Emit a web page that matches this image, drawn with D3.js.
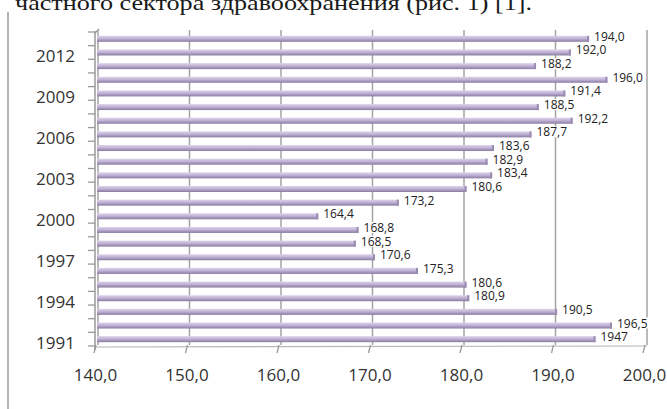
<!DOCTYPE html>
<html>
<head>
<meta charset="utf-8">
<script src="https://cdn.jsdelivr.net/npm/d3@7"></script>
<style>
  body { margin: 0; background: #fff; }
  svg { display: block; }
</style>
</head>
<body>
<svg id="plot" width="667" height="409"></svg>
<script>
// Years, bottom to top as in the picture
let years = ["1991","1992","1993","1994","1995","1996","1997","1998","1999","2000",
             "2001","2002","2003","2004","2005","2006","2007","2008","2009","2010",
             "2011","2012","2013"];
let values = [194.7,196.5,190.5,180.9,180.6,175.3,170.6,168.5,168.8,164.4,
              173.2,180.6,183.4,182.9,183.6,187.7,192.2,188.5,191.4,196.0,
              188.2,192.0,194.0];
// labels as printed (the 1991 one is printed "1947")
let valueLabels = ["1947","196,5","190,5","180,9","180,6","175,3","170,6","168,5","168,8","164,4",
                   "173,2","180,6","183,4","182,9","183,6","187,7","192,2","188,5","191,4","196,0",
                   "188,2","192,0","194,0"];
let shownYears = ["1991","1994","1997","2000","2003","2006","2009","2012"];
let xTicks = [140,150,160,170,180,190,200];

let data = years.map(function(y,i) {
  return {year: y, value: values[i], label: valueLabels[i]};
});

let svg = d3.select("#plot");

// caption line cut off at the top
svg.append("text")
  .attr("x", 15).attr("y", 10)
  .attr("textLength", 517).attr("lengthAdjust", "spacingAndGlyphs")
  .style("font-family", "'Liberation Serif', serif")
  .style("font-size", "22px")
  .attr("fill", "#1a1a1a")
  .text("частного сектора здравоохранения (рис. 1) [1].");

// left frame line
svg.append("line")
  .attr("x1", 8).attr("x2", 8).attr("y1", 12).attr("y2", 409)
  .attr("stroke", "#9a9a9a").attr("stroke-width", 1.5);

// scales
let xScale = d3.scaleLinear()
  .domain([140,200])
  .range([95,644]);

let yScale = d3.scaleBand()
  .domain(years.slice().reverse())
  .range([32,346]);

let depthX = 3;
let barH = 6;

// gradient for the cylinder look
let grad = svg.append("defs").append("linearGradient")
  .attr("id", "barGrad").attr("x1", 0).attr("x2", 0).attr("y1", 0).attr("y2", 1);
grad.append("stop").attr("offset", "0%").attr("stop-color", "#ddd3ea");
grad.append("stop").attr("offset", "45%").attr("stop-color", "#c1b3d6");
grad.append("stop").attr("offset", "100%").attr("stop-color", "#8a7ca1");

// back wall gridlines
svg.append("g")
  .selectAll("line")
  .data(xTicks)
  .enter()
  .append("line")
  .attr("x1", d => xScale(d) + depthX)
  .attr("x2", d => xScale(d) + depthX)
  .attr("y1", 30)
  .attr("y2", 345)
  .attr("stroke", "#a3a3a3")
  .attr("stroke-width", 1.5);

// floor edge and slanted ticks
svg.append("line")
  .attr("x1", xScale(140)).attr("x2", xScale(200) + depthX)
  .attr("y1", 347).attr("y2", 346)
  .attr("stroke", "#b5b5b5").attr("stroke-width", 1.2);

svg.append("g")
  .selectAll("line")
  .data(xTicks)
  .enter()
  .append("line")
  .attr("x1", d => xScale(d) + 1)
  .attr("x2", d => xScale(d) - 1)
  .attr("y1", 345)
  .attr("y2", 353)
  .attr("stroke", "#9a9a9a")
  .attr("stroke-width", 1.3);

// y axis line, corner and ticks at band edges
svg.append("line")
  .attr("x1", 95).attr("x2", 95).attr("y1", 31).attr("y2", 350)
  .attr("stroke", "#999").attr("stroke-width", 1.5);
svg.append("line")
  .attr("x1", 95).attr("x2", 99).attr("y1", 33).attr("y2", 29)
  .attr("stroke", "#999").attr("stroke-width", 1.2);

let edges = years.map(y => yScale(y)).concat([yScale(years[0]) + yScale.bandwidth()]);
svg.append("g")
  .selectAll("line")
  .data(edges)
  .enter()
  .append("line")
  .attr("x1", 88).attr("x2", 95)
  .attr("y1", d => d).attr("y2", d => d)
  .attr("stroke", "#999").attr("stroke-width", 1.3);

// bars
let bars = svg.append("g");
bars.selectAll("rect.bar")
  .data(data)
  .enter()
  .append("rect")
  .attr("class", "bar")
  .attr("x", xScale(140) + 2)
  .attr("y", d => yScale(d.year) + yScale.bandwidth() / 2 - barH / 2)
  .attr("width", d => xScale(d.value) - xScale(140) - 2)
  .attr("height", barH)
  .attr("fill", "url(#barGrad)");

bars.selectAll("rect.cap")
  .data(data)
  .enter()
  .append("rect")
  .attr("class", "cap")
  .attr("x", d => xScale(d.value) - 2)
  .attr("y", d => yScale(d.year) + yScale.bandwidth() / 2 - barH / 2)
  .attr("width", 2)
  .attr("height", barH)
  .attr("fill", "#9a8cb0");

// value labels with white box behind (cuts the gridlines like the original)
let lab = svg.append("g")
  .selectAll("g")
  .data(data)
  .enter()
  .append("g");

lab.append("text")
  .attr("x", d => xScale(d.value) + 5)
  .attr("y", d => yScale(d.year) + yScale.bandwidth() / 2 + 2)
  .style("font-family", "'Open Sans', sans-serif")
  .style("font-size", "12px")
  .attr("fill", "#222")
  .text(d => d.label);

lab.each(function() {
  let g = d3.select(this);
  let bb = g.select("text").node().getBBox();
  g.insert("rect", "text")
    .attr("x", bb.x - 1).attr("y", bb.y + 3)
    .attr("width", bb.width + 2).attr("height", bb.height - 6)
    .attr("fill", "#fff");
});

// x axis labels
let xAxis = d3.axisBottom(xScale)
  .tickValues(xTicks)
  .tickSize(0)
  .tickPadding(0)
  .tickFormat(d => d3.format(".1f")(d).replace(".", ","));

let gx = svg.append("g")
  .attr("transform", "translate(0,369)")
  .call(xAxis);
gx.select(".domain").remove();
gx.selectAll("text")
  .style("font-family", "'Open Sans', sans-serif")
  .style("font-size", "17px")
  .attr("fill", "#333");

// y axis labels (every third year)
let yAxis = d3.axisLeft(yScale)
  .tickValues(shownYears)
  .tickSize(0)
  .tickPadding(20);

let gy = svg.append("g")
  .attr("transform", "translate(95,4)")
  .call(yAxis);
gy.select(".domain").remove();
gy.selectAll("text")
  .style("font-family", "'Open Sans', sans-serif")
  .style("font-size", "17px")
  .attr("fill", "#333");
</script>
</body>
</html>
